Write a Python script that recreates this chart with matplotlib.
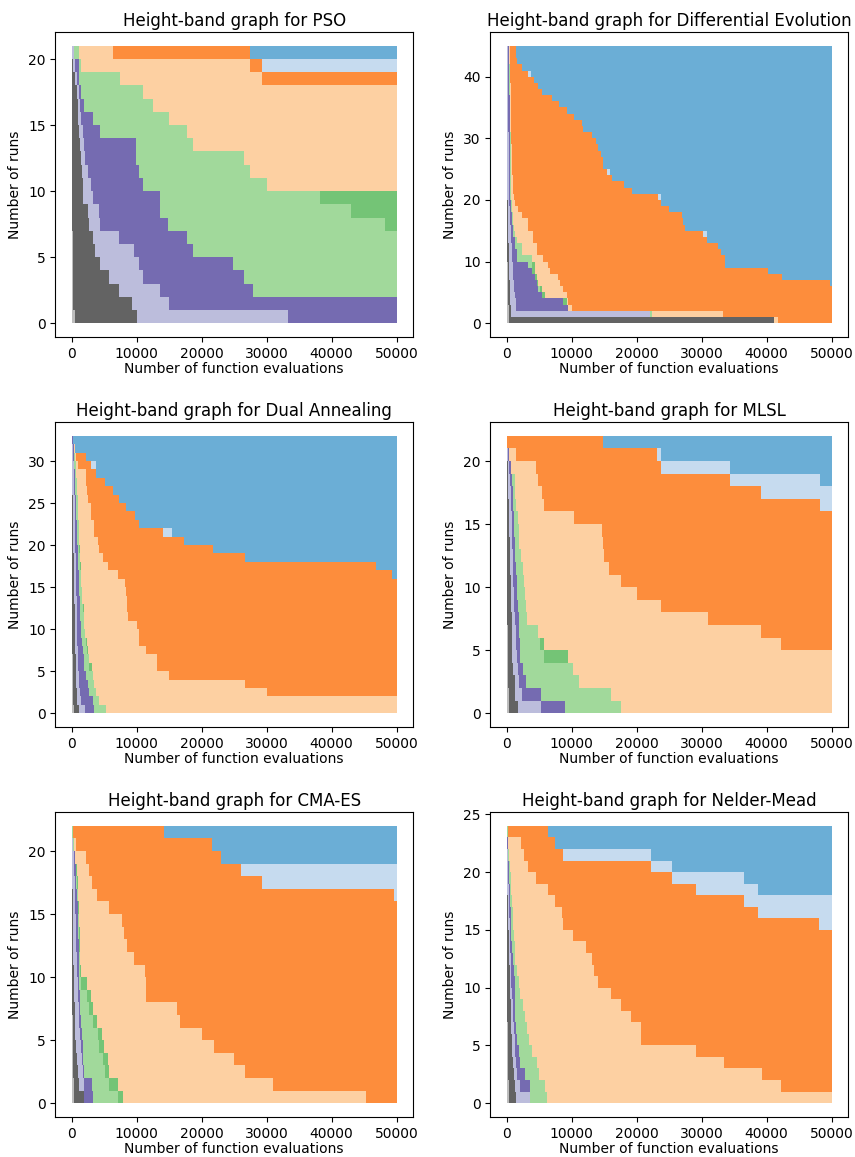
import matplotlib
matplotlib.use("Agg")
import matplotlib.pyplot as plt
import numpy as np

# evaluation count at which each run first reaches a band (one list per band,
# worst band first); runs that never reach a band are left out of its list
max_evals = 50000
band_colors = ['#bdbdbd', '#636363', '#bcbddc', '#756bb1', '#a1d99b',
               '#74c476', '#fdd0a2', '#fd8d3c', '#c6dbef', '#6baed6']

# PSO, 21 runs
pso_runs = 21
pso_hits = [
    [510, 250, 200, 200, 150, 150, 150, 100, 100, 100, 100, 100, 50, 50, 50, 50, 0, 0, 0, 0, 0],
    [10000, 9230, 7340, 5800, 4410, 3640, 3330, 2720, 2460, 1800, 1690, 1540, 1440, 1330, 1180, 1030, 920, 770, 560, 260, 100],
    [33350, 14900, 13650, 11030, 10400, 9650, 7340, 4410, 4260, 3230, 2980, 2460, 2100, 1950, 1690, 1490, 1280, 1080, 820, 510, 310],
    [27960, 26520, 24780, 18725, 17700, 14770, 13600, 13600, 10930, 10400, 9900, 9900, 4360, 3230, 1950, 1440, 1180, 1080, 360],
    [48220, 42940, 38220, 30110, 27450, 26570, 18725, 17700, 14980, 12570, 10930, 7440, 1440, 1180],
    [30110, 27450, 26570, 18725, 17700, 14980, 12570, 10930, 7440, 1440, 1180],
    [29340, 27450, 6310],
    [29340, 27450],
    [27450],
]

# Differential Evolution, 45 runs
de_runs = 45
de_hits = [
    [400, 300, 300, 250, 250, 200, 200, 200, 150, 150] + [100] * 15 + [50] * 15 + [0] * 5,
    [41190, 700, 600, 550, 500, 450, 450, 400, 400, 350, 350, 300, 300, 250, 250, 200, 200, 200, 150, 150]
    + [100] * 11 + [50] * 11 + [0] * 3,
    [41190, 22060, 1500, 1400, 1300, 1200, 1100, 1000, 1000, 900, 850, 800, 750, 700, 650, 600, 550, 500, 450, 400]
    + [350] * 5 + [300] * 6 + [250] * 6 + [200] * 5 + [150] * 3,
    [41190, 22060, 9490, 8720, 5390, 4870, 4620, 4360, 3850, 3330, 1540, 1540, 1280, 1280, 1000, 900, 800, 750, 700, 650]
    + [550] * 5 + [500] * 6 + [450] * 6 + [400] * 5 + [300] * 3,
    [41190, 22300, 9490, 8720, 5390, 5130, 4620, 4360, 3850, 3850, 3850, 2310, 2310, 1540, 1280, 1100, 1000, 900, 800, 750]
    + [650] * 5 + [600] * 6 + [550] * 6 + [450] * 5 + [400] * 3,
    [41190, 22300, 9490, 9230, 5900, 5390, 4870, 4620, 4360, 4360, 3850, 2310, 2310, 1540, 1280, 1100, 1000, 900, 800, 750]
    + [650] * 5 + [600] * 6 + [550] * 6 + [450] * 5 + [400] * 3,
    [41800, 33350, 10100, 9490, 9230, 8720, 8210, 7950, 6670, 6410, 5640, 4620, 4620, 4100, 4100, 3330, 3330, 2300,
     1800, 1300, 1100, 1000, 950, 900, 850, 800, 800, 750, 750, 700, 700]
    + [650] * 6 + [600, 600, 560, 560, 540, 520, 513, 513],
    [49760, 42320, 40270, 33600, 33600, 32985, 32575, 30780, 30270, 27450, 27190, 26930, 24980, 23700, 23340, 19240,
     18110, 16160, 15500, 14880, 14880, 14520, 14000, 13750, 13080, 11800, 11645, 10410, 9230, 8050, 6930, 5490,
     4870, 4260, 3330, 2310, 1540, 1385, 1385],
    [49760, 42320, 40270, 33600, 33600, 32985, 32575, 30780, 30780, 27450, 27190, 26930, 24980, 23700, 23700, 19240,
     18110, 16160, 15900, 14880, 14880, 14520, 14000, 13750, 13080, 11800, 11645, 10410, 9230, 8050, 6930, 5490,
     4870, 4260, 3690, 2310, 1540, 1385, 1385],
]

# Dual Annealing, 33 runs
da_runs = 33
da_hits = [
    [300, 250, 200, 200, 150, 150, 150, 100, 100, 100] + [50] * 13 + [0] * 10,
    [1080, 820, 770, 720, 670, 620, 610, 560, 540, 510, 490, 470, 440, 410, 400, 370, 340, 310, 300, 270, 250,
     230, 210, 200, 170, 150, 130, 110, 100, 70, 50, 30, 0],
    [2050, 1440, 1230, 1130, 1080, 1030, 980, 920, 870, 850, 820, 800, 770, 750, 720, 700, 670, 640, 620, 590,
     560, 540, 510, 490, 460, 440, 410, 380, 350, 310, 260, 200, 100],
    [3490, 3230, 2720, 2460, 2200, 1950, 1850, 1690, 1590, 1490, 1380, 1330, 1280, 1230, 1180, 1130, 1080, 1030,
     980, 920, 870, 820, 770, 720, 670, 620, 560, 510, 460, 410, 360, 300, 200],
    [5280, 4260, 3750, 3490, 3230, 2620, 2720, 2200, 2310, 2100, 1950, 1850, 1690, 1590, 1540, 1490, 1180, 1380,
     1330, 1280, 1180, 1130, 1080, 1030, 980, 920, 870, 820, 720, 620, 560, 400, 250],
    [5280, 4260, 3750, 3490, 3230, 3130, 2720, 2560, 2310, 2100, 1950, 1850, 1950, 1590, 1540, 1490, 1440, 1380,
     1330, 1280, 1180, 1130, 1080, 1030, 980, 920, 870, 820, 720, 620, 560, 400, 250],
    [30110, 26680, 15030, 13180, 13180, 11440, 10410, 10410, 10000, 8720, 8460, 8460, 8300, 8210, 7200, 5540, 4770,
     4260, 4000, 3490, 3490, 2980, 2980, 2460, 2310, 2200, 2150, 920, 670, 510, 260],
    [49250, 46840, 26680, 21700, 17290, 14100, 10410, 9750, 8360, 7340, 6410, 5130, 3740, 2920, 2200, 510, 260],
    [49250, 46840, 26680, 21700, 17290, 15390, 10410, 9750, 8360, 7340, 6410, 5130, 3740, 3690, 2200, 510, 260],
]

# MLSL, 22 runs
mlsl_runs = 22
mlsl_hits = [
    [400, 300, 250, 200, 200, 150, 150, 100, 100, 100, 50, 50, 50, 50, 0, 0, 0, 0, 0, 0, 0, 0],
    [1740, 1330, 1230, 980, 820, 820, 820, 770, 720, 670, 620, 560, 510, 460, 410, 360, 310, 260, 200, 150, 100, 0],
    [5340, 2360, 1850, 1740, 1590, 1480, 1380, 1280, 1180, 1100, 1030, 970, 900, 850, 800, 750, 700, 600, 500, 400, 200, 0],
    [9030, 5340, 2980, 2460, 2100, 2000, 1900, 1850, 1750, 1650, 1550, 1450, 1350, 1300, 1200, 1100, 1000, 900, 820, 620, 310, 0],
    [17540, 16060, 11130, 10160, 5800, 5130, 4870, 3130, 2980, 2770, 2620, 2460, 2200, 1950, 1850, 1690, 1440, 1330, 1230, 720, 310, 0],
    [17540, 16060, 11130, 10160, 9490, 5800, 4870, 3130, 2980, 2770, 2620, 2460, 2200, 1950, 1850, 1690, 1440, 1330, 1230, 720, 310, 0],
    [42220, 39090, 31040, 23750, 20010, 17600, 15750, 14980, 14880, 14720, 10360, 5800, 5390, 4870, 4460, 1440, 0],
    [48220, 39090, 34370, 23700, 23190, 14880],
    [48220, 34370, 23700, 14880],
]

# CMA-ES, 22 runs
cma_runs = 22
cma_hits = [
    [400, 300, 250, 200, 200, 150, 150, 100, 100, 100, 50, 50, 50, 50, 0, 0, 0, 0, 0, 0, 0, 0],
    [1950, 1080, 920, 820, 670, 560, 510, 460, 410, 360, 310, 280, 250, 230, 200, 180, 150, 120, 100, 80, 50, 0],
    [1950, 1950, 1690, 1540, 1440, 1280, 1180, 1080, 970, 920, 820, 770, 720, 670, 620, 560, 510, 460, 410, 310, 200, 50],
    [3340, 3130, 1950, 1800, 1690, 1540, 1440, 1330, 1280, 1180, 1180, 1130, 1080, 1030, 970, 920, 820, 720, 620, 460, 260, 100],
    [7080, 5800, 5130, 4770, 4260, 4000, 3230, 2720, 2310, 1440, 1280, 1230, 1180, 1130, 1080, 1030, 920, 820, 720, 510, 310, 150],
    [7950, 7080, 5800, 5540, 5030, 4670, 3850, 3230, 2980, 2310, 1440, 1330, 1280, 1230, 1180, 1130, 1030, 920, 820, 560, 410, 200],
    [45300, 30930, 26680, 24980, 21900, 20110, 16670, 16260, 11440, 11440, 11290, 9590, 8460, 8050, 7700, 5800, 3950,
     3080, 2720, 2210, 670, 260],
    [49660, 29340, 26060, 23030, 21650, 14210],
    [23030, 21650, 14210],
]

# Nelder-Mead, 24 runs
nm_runs = 24
nm_peach = [6210, 5950, 4920, 4670, 3900, 3390, 3130, 2870, 2460, 2100, 1850, 1590, 1330, 1230, 1130, 1030, 920,
            820, 720, 620, 510, 310, 260, 150]
nm_hits = [
    [400, 300, 250, 200, 200, 150, 150, 100, 100, 100, 50, 50, 50, 50] + [0] * 10,
    [1440, 1230, 1080, 970, 820, 820, 720, 670, 620, 560, 510, 460, 410, 360, 310, 260, 200, 150, 100, 80, 50, 0, 0, 0],
    [3640, 2100, 1590, 1440, 1330, 1230, 1130, 1030, 920, 820, 720, 670, 620, 560, 510, 460, 410, 360, 310, 260,
     200, 150, 100, 50],
    [3640, 3640, 2870, 2100, 1850, 1590, 1440, 1330, 1330, 1230, 1230, 1080, 920, 820, 720, 670, 620, 560, 510,
     410, 310, 200, 150, 100],
    nm_peach,
    nm_peach,
    [42220, 39250, 33500, 29140, 20670, 20670, 19130, 17600, 16060, 14000, 13440, 13080, 12210, 10160, 8720, 8570,
     7440, 6310, 4510, 3330, 2720, 2210, 150],
    [48070, 38730, 36530, 29140, 25390, 22160, 8720, 7440, 6310],
    [38730, 36530, 25390, 22160, 7440, 6310],
]

panels = [
    ("PSO", pso_runs, pso_hits),
    ("Differential Evolution", de_runs, de_hits),
    ("Dual Annealing", da_runs, da_hits),
    ("MLSL", mlsl_runs, mlsl_hits),
    ("CMA-ES", cma_runs, cma_hits),
    ("Nelder-Mead", nm_runs, nm_hits),
]


def draw_bands(ax, n_runs, hits):
    xs = sorted(set([0, max_evals] + [h for lvl in hits for h in lvl if h < max_evals]))
    xs = np.array(xs, dtype=float)
    # number of runs still below each band at every x
    below = [np.zeros(len(xs))]
    for lvl in hits:
        arr = np.array(lvl, dtype=float)
        below.append(n_runs - (arr[None, :] <= xs[:, None]).sum(axis=1))
    below.append(np.full(len(xs), n_runs))
    # paint best band first, then cover it from the bottom with worse bands
    for j in range(len(band_colors) - 1, -1, -1):
        ax.fill_between(xs, 0, below[j + 1], step='post', color=band_colors[j], linewidth=0)


fig = plt.figure(figsize=(8.55, 11.57), dpi=100)
W, H = 855, 1157
col_left = [55.4, 490.4]
row_top = [32, 422, 812]
ax_w, ax_h = 357.5, 305

for i, (name, n_runs, hits) in enumerate(panels):
    r, c = divmod(i, 2)
    rect = [col_left[c] / W, 1 - (row_top[r] + ax_h) / H, ax_w / W, ax_h / H]
    ax = fig.add_axes(rect)
    draw_bands(ax, n_runs, hits)
    ax.set_title("Height-band graph for " + name, fontsize=12, pad=4)
    ax.set_xlabel("Number of function evaluations", fontsize=10, labelpad=1)
    ax.set_ylabel("Number of runs", fontsize=10)
    ax.tick_params(labelsize=10)

fig.savefig("out.png", dpi=100)
